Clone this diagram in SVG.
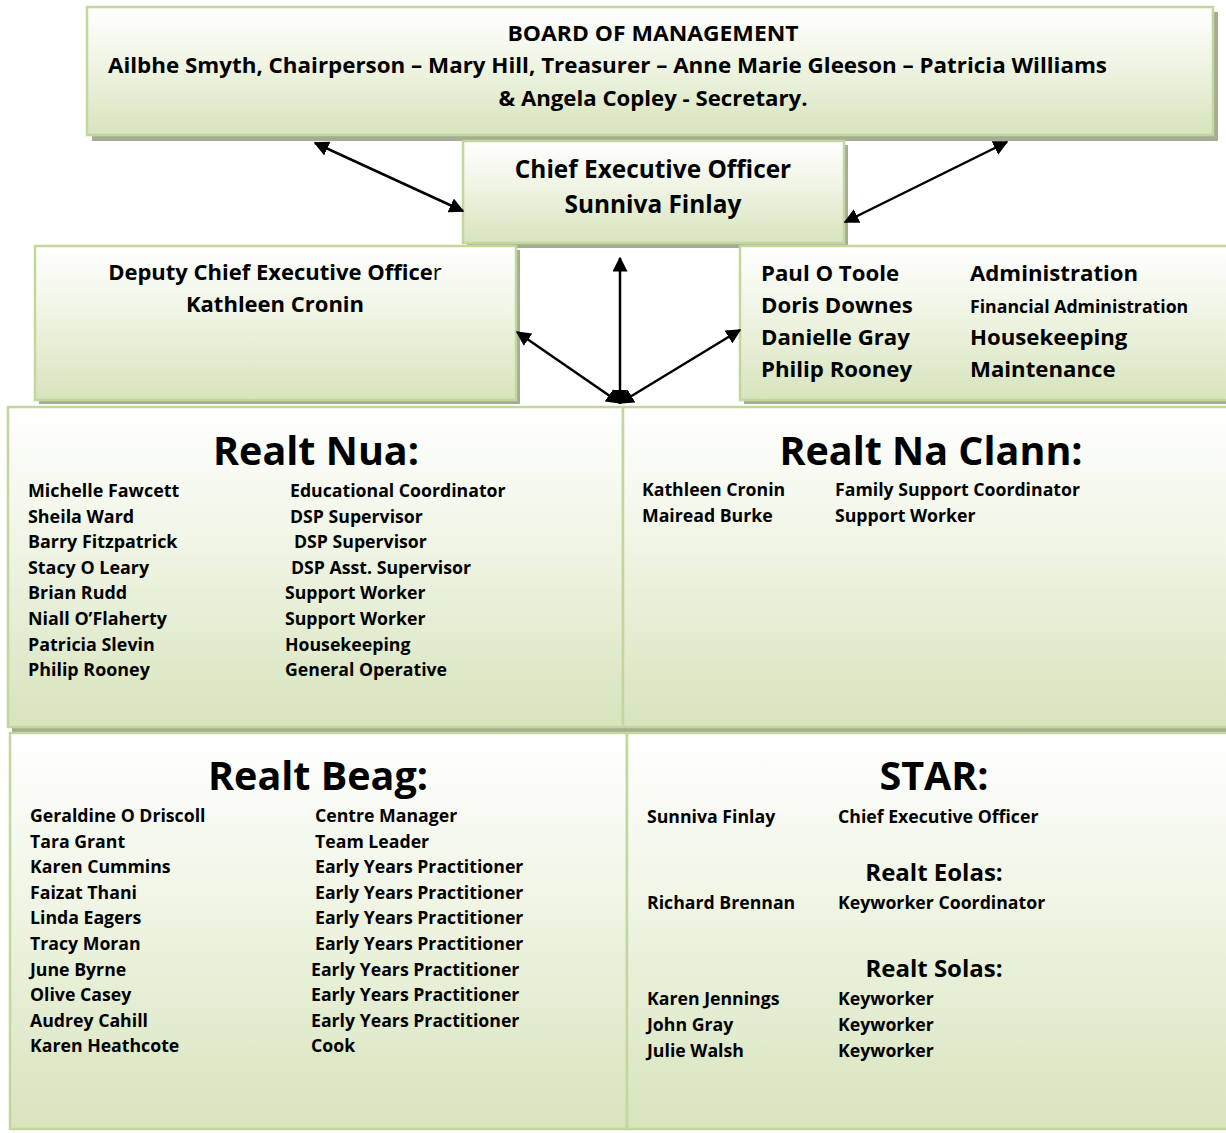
<svg xmlns="http://www.w3.org/2000/svg" width="1226" height="1133" viewBox="0 0 1226 1133">
<defs>
<linearGradient id="g" x1="0" y1="0" x2="0" y2="1">
<stop offset="0" stop-color="#ffffff"/>
<stop offset="0.35" stop-color="#f3f7ea"/>
<stop offset="1" stop-color="#d7e4bd"/>
</linearGradient>
<marker id="ah" viewBox="0 0 10 10" refX="9" refY="5" markerWidth="6" markerHeight="6" markerUnits="strokeWidth" orient="auto-start-reverse">
<path d="M0,0 L10,5 L0,10 z" fill="#000"/>
</marker>
</defs>
<style>
.box{fill:url(#g);stroke:#c3d69b;stroke-width:2.5}
.sh{fill:#a4ad94}
text{font-family:"Open Sans","Noto Sans","Liberation Sans",sans-serif;font-weight:bold;fill:#000}
.c{text-anchor:middle}
.t{font-size:39.5px}
.r{font-size:17.7px}
.n{font-size:17.9px}
.a{font-size:22.2px}
.conn line{stroke:#000;stroke-width:2.5;marker-start:url(#ah);marker-end:url(#ah)}
</style>
<rect width="1226" height="1133" fill="#fff"/>

<g id="board">
<rect class="sh" x="92" y="12" width="1126" height="129"/>
<rect class="box" x="87" y="7" width="1126" height="128"/>
<text class="c" x="653" y="41" font-size="21" textLength="291" lengthAdjust="spacingAndGlyphs">BOARD OF MANAGEMENT</text>
<text x="108" y="73" font-size="21.5" textLength="999" lengthAdjust="spacingAndGlyphs">Ailbhe Smyth, Chairperson – Mary Hill, Treasurer – Anne Marie Gleeson – Patricia Williams</text>
<text class="c" x="653" y="106" font-size="22.2">&amp; Angela Copley - Secretary.</text>
</g>

<g id="ceo">
<rect class="sh" x="467" y="145" width="381" height="103"/>
<rect class="box" x="463" y="141" width="381" height="102"/>
<text class="c" x="653" y="178" font-size="24.4">Chief Executive Officer</text>
<text class="c" x="653" y="213" font-size="24.4">Sunniva Finlay</text>
</g>

<g id="deputy">
<rect class="sh" x="39" y="250" width="481" height="154"/>
<rect class="box" x="35" y="246" width="481" height="154"/>
<text class="c" x="275" y="280" font-size="22">Deputy Chief Executive Office<tspan font-weight="normal">r</tspan></text>
<text class="c" x="275" y="312" font-size="22">Kathleen Cronin</text>
</g>

<g id="admin">
<rect class="sh" x="744" y="250" width="490" height="154"/>
<rect class="box" x="740" y="246" width="492" height="154"/>
<text class="a" x="761" y="281">Paul O Toole</text>
<text class="a" x="761" y="313">Doris Downes</text>
<text class="a" x="761" y="345">Danielle Gray</text>
<text class="a" x="761" y="377">Philip Rooney</text>
<text class="a" x="970" y="281">Administration</text>
<text x="970" y="313" font-size="17.7">Financial Administration</text>
<text class="a" x="970" y="345">Housekeeping</text>
<text class="a" x="970" y="377">Maintenance</text>
</g>

<g id="realt-nua">
<rect class="sh" x="12" y="411" width="615" height="321"/>
<rect class="box" x="8" y="407" width="615" height="320"/>
<text class="c t" x="316" y="465">Realt Nua:</text>
<text class="n" x="28" y="497">Michelle Fawcett</text>
<text class="n" x="28" y="523">Sheila Ward</text>
<text class="n" x="28" y="548">Barry Fitzpatrick</text>
<text class="n" x="28" y="574">Stacy O Leary</text>
<text class="n" x="28" y="599">Brian Rudd</text>
<text class="n" x="28" y="625">Niall O’Flaherty</text>
<text class="n" x="28" y="651">Patricia Slevin</text>
<text class="n" x="28" y="676">Philip Rooney</text>
<text class="r" x="290" y="497">Educational Coordinator</text>
<text class="r" x="290" y="523">DSP Supervisor</text>
<text class="r" x="294" y="548">DSP Supervisor</text>
<text class="r" x="291" y="574">DSP Asst. Supervisor</text>
<text class="r" x="285" y="599">Support Worker</text>
<text class="r" x="285" y="625">Support Worker</text>
<text class="r" x="285" y="651">Housekeeping</text>
<text class="r" x="285" y="676">General Operative</text>
</g>

<g id="realt-na-clann">
<rect class="sh" x="627" y="411" width="610" height="321"/>
<rect class="box" x="623" y="407" width="610" height="320"/>
<text class="c t" x="931" y="465">Realt Na Clann:</text>
<text class="r" x="642" y="496">Kathleen Cronin</text>
<text class="r" x="642" y="522">Mairead Burke</text>
<text class="r" x="835" y="496">Family Support Coordinator</text>
<text class="r" x="835" y="522">Support Worker</text>
</g>

<g id="realt-beag">
<rect class="box" x="10" y="733" width="617" height="396"/>
<text class="c t" x="318" y="790">Realt Beag:</text>
<text class="r" x="30" y="822">Geraldine O Driscoll</text>
<text class="r" x="30" y="848">Tara Grant</text>
<text class="r" x="30" y="873">Karen Cummins</text>
<text class="r" x="30" y="899">Faizat Thani</text>
<text class="r" x="30" y="924">Linda Eagers</text>
<text class="r" x="30" y="950">Tracy Moran</text>
<text class="r" x="30" y="976">June Byrne</text>
<text class="r" x="30" y="1001">Olive Casey</text>
<text class="r" x="30" y="1027">Audrey Cahill</text>
<text class="r" x="30" y="1052">Karen Heathcote</text>
<text class="r" x="315" y="822">Centre Manager</text>
<text class="r" x="315" y="848">Team Leader</text>
<text class="r" x="315" y="873">Early Years Practitioner</text>
<text class="r" x="315" y="899">Early Years Practitioner</text>
<text class="r" x="315" y="924">Early Years Practitioner</text>
<text class="r" x="315" y="950">Early Years Practitioner</text>
<text class="r" x="311" y="976">Early Years Practitioner</text>
<text class="r" x="311" y="1001">Early Years Practitioner</text>
<text class="r" x="311" y="1027">Early Years Practitioner</text>
<text class="r" x="311" y="1052">Cook</text>
</g>

<g id="star">
<rect class="box" x="627" y="733" width="605" height="396"/>
<text class="c t" x="934" y="790">STAR:</text>
<text class="r" x="647" y="823">Sunniva Finlay</text>
<text class="r" x="838" y="823">Chief Executive Officer</text>
<text class="c" x="934" y="881" font-size="24">Realt Eolas:</text>
<text class="r" x="647" y="909">Richard Brennan</text>
<text class="r" x="838" y="909">Keyworker Coordinator</text>
<text class="c" x="934" y="977" font-size="24">Realt Solas:</text>
<text class="r" x="647" y="1005">Karen Jennings</text>
<text class="r" x="647" y="1031">John Gray</text>
<text class="r" x="647" y="1057">Julie Walsh</text>
<text class="r" x="838" y="1005">Keyworker</text>
<text class="r" x="838" y="1031">Keyworker</text>
<text class="r" x="838" y="1057">Keyworker</text>
</g>

<g id="connectors" class="conn">
<line x1="315" y1="143" x2="463" y2="211"/>
<line x1="845" y1="222" x2="1007" y2="142"/>
<line x1="620" y1="403" x2="620" y2="258"/>
<line x1="620" y1="403" x2="517" y2="332"/>
<line x1="620" y1="403" x2="740" y2="330"/>
</g>
</svg>
